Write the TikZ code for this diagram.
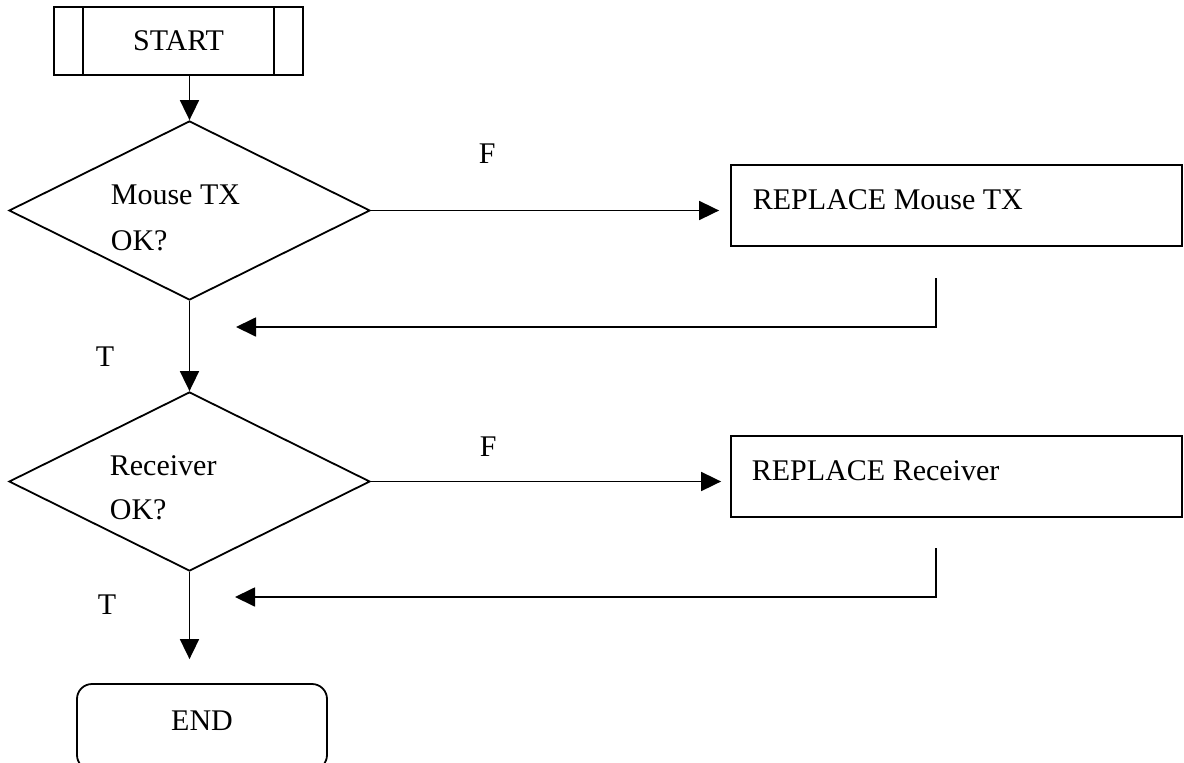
\documentclass[tikz,border=0pt]{standalone}
\usepackage{fontspec}
\setmainfont{Liberation Serif}
\usetikzlibrary{arrows.meta,shapes.geometric}
\begin{document}
\begin{tikzpicture}[x=1pt,y=-1pt, line width=1.8pt,
  font=\fontsize{30}{36}\selectfont,
  flow/.style={-{Triangle[length=20pt,width=19pt]}},
  dec/.style={draw, diamond, minimum width=361pt, minimum height=179pt, inner sep=0pt},
  proc/.style={draw, rectangle, minimum width=451pt, minimum height=81pt, inner sep=0pt},
  lbl/.style={anchor=base west, inner sep=0pt}]
\useasboundingbox (0,0) rectangle (1184,763);

% nodes
\node[draw, rectangle, minimum width=249pt, minimum height=68pt, inner sep=0pt] (start) at (178.5,41) {START};
\draw ([xshift=30pt]start.north west) -- ([xshift=30pt]start.south west);
\draw ([xshift=-30pt]start.north east) -- ([xshift=-30pt]start.south east);

\node[dec] (d1) at (189.5,210.5) {};
\node[lbl] (d1a) at (110,204) {Mouse TX};
\node[lbl] (d1b) at (110,250) {OK?};

\node[dec] (d2) at (189.5,481.5) {};
\node[lbl] (d2a) at (109,475) {Receiver};
\node[lbl] (d2b) at (109,519) {OK?};

\node[proc] (p1) at (956.5,205.5) {};
\node[lbl] (p1t) at (752,209) {REPLACE Mouse TX};
\node[proc] (p2) at (956.5,476.5) {};
\node[lbl] (p2t) at (751,480) {REPLACE Receiver};

\node[draw, rounded corners=15pt, minimum width=250pt, minimum height=86pt, inner sep=0pt] (stop) at (202,727) {};
\node[anchor=base, inner sep=0pt] (stopt) at (202,730) {END};

\node[lbl] (f1) at (478,163) {F};
\node[lbl] (f2) at (479,456) {F};
\node[lbl] (tt1) at (95,366) {T};
\node[lbl] (tt2) at (97,614) {T};

\coordinate (r1a) at (936,278);
\coordinate (r1b) at (236,327);
\coordinate (r2a) at (936,548);
\coordinate (r2b) at (235,597);

% connectors
\draw[flow] (start.south -| d1.north) -- (d1.north);
\draw[flow, shorten >=11pt] (d1.east) -- (d1.east -| p1.west);
\draw[flow] (r1a) |- (r1b);
\draw[flow] (d1.south) -- (d2.north);
\draw[flow, shorten >=9pt] (d2.east) -- (d2.east -| p2.west);
\draw[flow] (r2a) |- (r2b);
\draw[flow, shorten >=24pt] (d2.south) -- (d2.south |- stop.north);
\end{tikzpicture}
\end{document}
